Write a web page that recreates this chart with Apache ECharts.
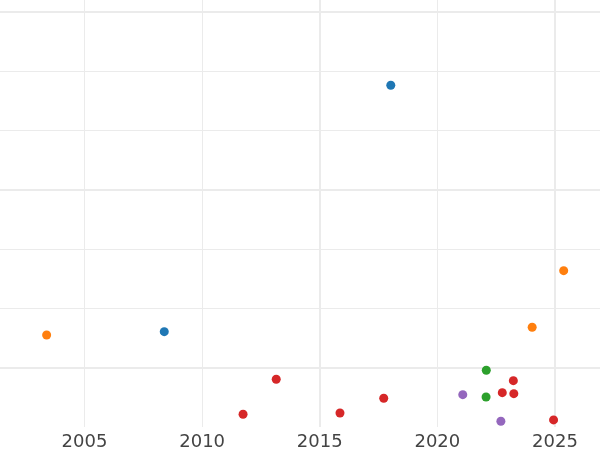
<!DOCTYPE html>
<html>
<head>
<meta charset="utf-8">
<script src="https://cdn.jsdelivr.net/npm/echarts@6/dist/echarts.min.js"></script>
<style>html,body{margin:0;padding:0;background:#fff}#c{width:600px;height:450px}</style>
</head>
<body>
<div id="c"></div>
<script>
// x = year, y = value
const blueX = [2018.02, 2008.39];
const blueY = [4.76, 0.607];
const orangeX = [2003.39, 2025.37, 2024.03];
const orangeY = [0.551, 1.635, 0.681];
const greenX = [2022.08, 2022.07];
const greenY = [-0.044, -0.494];
const redX = [2011.74, 2013.15, 2015.86, 2017.72, 2022.76, 2023.23, 2023.25, 2024.94];
const redY = [-0.785, -0.196, -0.764, -0.516, -0.421, -0.219, -0.438, -0.881];
const purpleX = [2021.08, 2022.70];
const purpleY = [-0.455, -0.903];
const majorY = [0, 3, 6];
const majorX = [2015, 2025];

const zip = (xs, ys) => xs.map((x, i) => [x, ys[i]]);
const gridColor = '#ebebeb';

const chart = echarts.init(document.getElementById('c'), null, {renderer: 'canvas'});
const mk = (name, color, xs, ys) => ({
  name, type: 'scatter', data: zip(xs, ys), symbolSize: 9, z: 5,
  itemStyle: {color, opacity: 1}
});
chart.setOption({
  animation: false,
  backgroundColor: '#ffffff',
  grid: {left: -33.1, right: -72.6, top: -47.6, bottom: 23, containLabel: false, outerBoundsMode: 'none'},
  xAxis: {
    type: 'value', min: 2000, max: 2030, interval: 5,
    axisLine: {show: false}, axisTick: {show: false},
    axisLabel: {color: '#444444', fontSize: 18, fontFamily: 'DejaVu Sans', margin: 6, formatter: v => String(v)},
    splitLine: {show: true, lineStyle: {color: gridColor, width: 1}}
  },
  yAxis: {
    type: 'value', min: -1, max: 7, interval: 1,
    axisLine: {show: false}, axisTick: {show: false}, axisLabel: {show: false},
    splitLine: {show: true, showMinLine: false, lineStyle: {color: gridColor, width: 1}}
  },
  series: [
    {
      type: 'line', data: [], silent: true, z: 1,
      markLine: {
        silent: true, symbol: ['none', 'none'], label: {show: false},
        lineStyle: {color: gridColor, width: 2, type: 'solid'},
        data: majorY.map(v => ({yAxis: v})).concat(majorX.map(v => ({xAxis: v})))
      }
    },
    mk('blue', '#1f77b4', blueX, blueY),
    mk('orange', '#ff7f0e', orangeX, orangeY),
    mk('green', '#2ca02c', greenX, greenY),
    mk('red', '#d62728', redX, redY),
    mk('purple', '#9467bd', purpleX, purpleY)
  ]
});
</script>
</body>
</html>
